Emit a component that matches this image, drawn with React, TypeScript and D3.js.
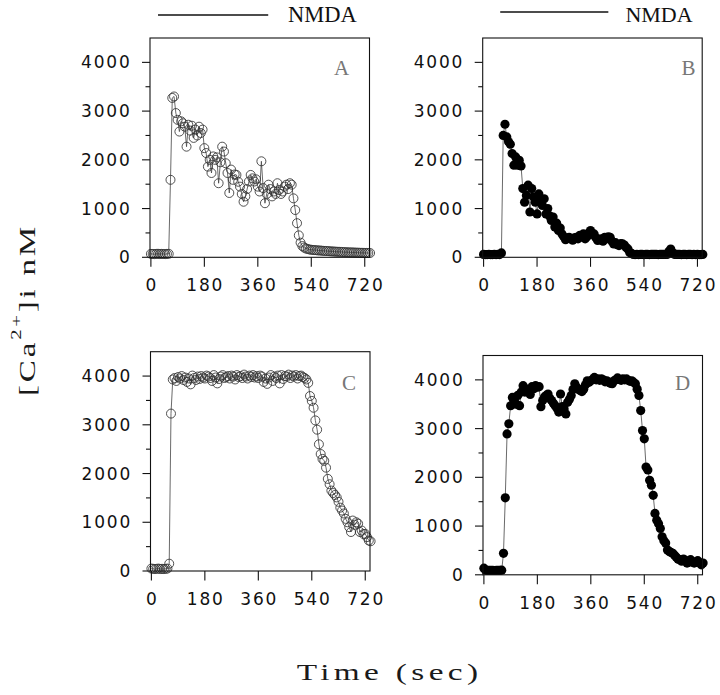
import React from 'react';
import * as d3 from 'd3';

// sample times (sec)
const times = [
  0, 6, 12, 18, 24, 30, 36, 42, 48, 54,
  60, 66, 72, 78, 84, 90, 96, 102, 108, 114,
  120, 126, 132, 138, 144, 150, 156, 162, 168, 174,
  180, 186, 192, 198, 204, 210, 216, 222, 228, 234,
  240, 246, 252, 258, 264, 270, 276, 282, 288, 294,
  300, 306, 312, 318, 324, 330, 336, 342, 348, 354,
  360, 366, 372, 378, 384, 390, 396, 402, 408, 414,
  420, 426, 432, 438, 444, 450, 456, 462, 468, 474,
  480, 486, 492, 498, 504, 510, 516, 522, 528, 534,
  540, 546, 552, 558, 564, 570, 576, 582, 588, 594,
  600, 606, 612, 618, 624, 630, 636, 642, 648, 654,
  660, 666, 672, 678, 684, 690, 696, 702, 708, 714,
  720, 726, 732, 738,
];

// [Ca2+]i nM, panel A (open circles)
const seriesA = [
  70, 68, 65, 70, 72, 66, 70, 68, 65, 70,
  72, 1590, 3270, 3300, 2960, 2820, 2580, 2790, 2750, 2680,
  2270, 2720, 2600, 2700, 2450, 2620, 2500, 2680, 2550, 2620,
  2240, 2140, 1860, 2000, 1730, 2070, 2000, 2050, 1520, 1950,
  2270, 2170, 1930, 1730, 1320, 1800, 1590, 1700, 1690, 1550,
  1450, 1300, 1140, 1250, 1400, 1555, 1690, 1620, 1555, 1600,
  1450, 1350, 1970, 1420, 1110, 1300, 1490, 1400, 1250, 1350,
  1300, 1520, 1380, 1300, 1350, 1450, 1490, 1400, 1520, 1490,
  1210, 970, 700, 450, 300, 230, 200, 180, 170, 160,
  155, 150, 148, 145, 140, 140, 135, 132, 130, 128,
  125, 122, 120, 118, 115, 113, 112, 110, 108, 105,
  104, 102, 100, 100, 98, 96, 95, 94, 92, 92,
  90, 90, 88, 88,
];

// panel B (filled circles)
const seriesB = [
  60, 55, 55, 60, 55, 55, 60, 55, 60, 55,
  90, 2500, 2730, 2470, 2370, 2320, 2130, 1890, 2060, 1890,
  1990, 1875, 1410, 1130, 1270, 1480, 930, 1410, 1240, 1130,
  890, 1300, 1170, 1065, 1200, 890, 1000, 850, 755, 825,
  620, 700, 550, 600, 480, 420, 360, 390, 410, 380,
  350, 400, 410, 380, 450, 420, 480, 380, 420, 500,
  550, 470, 480, 400, 345, 360, 380, 330, 410, 380,
  420, 410, 330, 275, 300, 260, 240, 280, 275, 250,
  200, 170, 100, 80, 60, 55, 60, 55, 60, 58,
  55, 60, 58, 55, 60, 62, 58, 60, 55, 60,
  58, 60, 62, 60, 120, 170, 100, 62, 60, 58,
  60, 55, 58, 60, 55, 58, 60, 55, 58, 55,
  58, 55, 55, 58,
];

// panel C (open circles)
const seriesC = [
  50, 45, 40, 45, 50, 40, 45, 40, 45, 50,
  150, 3230, 3930, 3960, 3900, 3980, 3950, 4000, 3920, 3970,
  3880, 3950, 3830, 4010, 3960, 3920, 3990, 3940, 4000, 3970,
  3950, 4010, 3990, 3960, 3900, 4020, 3970, 3850, 3940, 3990,
  4020, 3960, 3980, 4000, 3950, 4010, 3990, 3930, 4020, 3980,
  4000, 3960, 4030, 3990, 3950, 4010, 3980, 4020, 3970, 4000,
  3960, 4010, 3990, 3880, 3950, 3840, 3970, 4020, 3900, 3990,
  3960, 4010, 3850, 4020, 3940, 4000, 3990, 4030, 3960, 4010,
  3990, 4020, 3950, 4000, 4010, 3980, 3960, 3930, 3860, 3590,
  3490, 3350, 3090, 2900, 2600, 2400, 2300, 2260, 2120, 1890,
  1780, 1650, 1600, 1560, 1510, 1420, 1300, 1240, 1180, 1070,
  1000, 900, 800, 1035, 950, 1000, 970, 800, 830, 760,
  760, 695, 625, 610,
];

// panel D (filled circles)
const seriesD = [
  136, 95, 90, 90, 92, 90, 88, 90, 92, 90,
  95, 440, 1580, 2890, 3100, 3470, 3640, 3575, 3500, 3680,
  3470, 3750, 3880, 3750, 3810, 3780, 3700, 3860, 3820, 3880,
  3850, 3860, 3450, 3575, 3650, 3680, 3710, 3620, 3575, 3520,
  3470, 3420, 3340, 3710, 3450, 3400, 3300, 3540, 3600, 3680,
  3800, 3920, 3850, 3810, 3780, 3760, 3810, 3900, 3980, 3950,
  3980, 4010, 4050, 4000, 4020, 3990, 4020, 4000, 3960, 3980,
  3950, 3930, 3920, 3980, 4000, 4040, 4010, 3990, 4020, 4000,
  4020, 3990, 3970, 3980, 3950, 3920, 3810, 3680, 3370, 2960,
  2790, 2210, 2150, 1940, 1840, 1630, 1260, 1120, 1050, 950,
  780, 700, 650, 510, 480, 460, 440, 400, 360, 320,
  310, 280, 320, 300, 240, 260, 310, 270, 240, 260,
  290, 250, 205, 240,
];

const xTicks = [0, 180, 360, 540, 720];
const yTicks = [0, 1000, 2000, 3000, 4000];
const yMinorTicks = [500, 1500, 2500, 3500];
const nmdaA = [24, 395];
const nmdaB = [56, 420];
const panelLetters = ['A', 'B', 'C', 'D'];

const W = 219.5;
const H = 219.3;
const x = d3.scaleLinear().domain([-3, 736]).range([0, W]);
const y = d3.scaleLinear().domain([0, 4500]).range([H, 0]);

const panels = [
  { data: seriesA, filled: false, left: 150, top: 38, lx: 191.5, ly: 37 },
  { data: seriesB, filled: true, left: 482.7, top: 38, lx: 205.8, ly: 37 },
  { data: seriesC, filled: false, left: 150.5, top: 351.7, lx: 198.5, ly: 38.3 },
  { data: seriesD, filled: true, left: 483, top: 355.5, lx: 199.5, ly: 34.5 },
];

const tickFont = "'DejaVu Sans', sans-serif";
const serif = "'Liberation Serif', 'Times New Roman', serif";

function Panel({ p, letter }: { p: any; letter: string }) {
  const pts: [number, number][] = times.map((t, i) => [t, p.data[i]]);
  const line = d3
    .line<[number, number]>()
    .x((d) => x(d[0]))
    .y((d) => y(d[1]));
  return (
    <g transform={`translate(${p.left},${p.top})`}>
      <path d={line(pts) || ''} fill="none" stroke="#444" strokeWidth={0.8} />
      {pts.map((d, i) =>
        p.filled ? (
          <circle key={i} cx={x(d[0])} cy={y(d[1])} r={4.6} fill="#000" />
        ) : (
          <circle key={i} cx={x(d[0])} cy={y(d[1])} r={4.5} fill="none" stroke="#333" strokeWidth={0.85} />
        )
      )}
      <rect x={0} y={0} width={W} height={H} fill="none" stroke="#111" strokeWidth={1.1} />
      {yTicks.map((v) => (
        <g key={'y' + v}>
          <line x1={-8} x2={0} y1={y(v)} y2={y(v)} stroke="#111" strokeWidth={1.1} />
          <text
            x={-18.5}
            y={y(v)}
            dy="0.36em"
            textAnchor="end"
            fontFamily={tickFont}
            fontSize={17}
            letterSpacing={1.8}
            fill="#111"
          >
            {v}
          </text>
        </g>
      ))}
      {yMinorTicks.map((v) => (
        <line key={'m' + v} x1={-4.5} x2={0} y1={y(v)} y2={y(v)} stroke="#111" strokeWidth={1.1} />
      ))}
      {xTicks.map((t) => (
        <g key={'x' + t}>
          <line x1={x(t)} x2={x(t)} y1={H} y2={H + 9.5} stroke="#111" strokeWidth={1.1} />
          <text
            x={x(t) + 0.9}
            y={H + 34}
            textAnchor="middle"
            fontFamily={tickFont}
            fontSize={17}
            letterSpacing={1.8}
            fill="#111"
          >
            {t}
          </text>
        </g>
      ))}
      <text x={p.lx} y={p.ly} textAnchor="middle" fontFamily={serif} fontSize={21} fill="#777">
        {letter}
      </text>
    </g>
  );
}

export default function App() {
  return (
    <svg
      width={720}
      height={695}
      viewBox="0 0 720 695"
      style={{ position: 'absolute', left: 0, top: 0, background: '#fff' }}
    >
      <rect x={0} y={0} width={720} height={695} fill="#fff" />
      {/* NMDA application bars */}
      <line x1={150 + x(nmdaA[0])} x2={150 + x(nmdaA[1])} y1={15} y2={15} stroke="#111" strokeWidth={1.5} />
      <text x={322.5} y={22} textAnchor="middle" fontFamily={serif} fontSize={22.5} fill="#111">
        NMDA
      </text>
      <line x1={482.7 + x(nmdaB[0])} x2={482.7 + x(nmdaB[1])} y1={12} y2={12} stroke="#111" strokeWidth={1.5} />
      <text x={659} y={22} textAnchor="middle" fontFamily={serif} fontSize={22} fill="#111">
        NMDA
      </text>

      {panels.map((p, i) => (
        <Panel key={i} p={p} letter={panelLetters[i]} />
      ))}

      {/* y axis title */}
      <g transform="translate(35,310) rotate(-90) scale(1.38,1)">
        <text textAnchor="middle" fontFamily={serif} fontSize={24} letterSpacing={2} fill="#1a1a1a">
          <tspan>[Ca</tspan>
          <tspan fontSize={15} dy={-14}>2+</tspan>
          <tspan dy={14}>]i nM</tspan>
        </text>
      </g>

      {/* x axis title */}
      <g transform="translate(389.5,680) scale(1.45,1)">
        <text textAnchor="middle" fontFamily={serif} fontSize={23} letterSpacing={3} fill="#1a1a1a">
          Time (sec)
        </text>
      </g>
    </svg>
  );
}
